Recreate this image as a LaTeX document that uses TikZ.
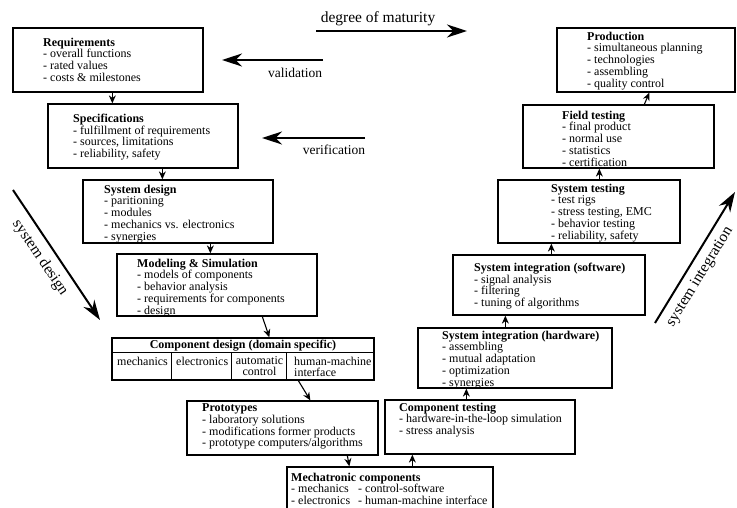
\documentclass[tikz,border=0pt]{standalone}
\usepackage{fontspec}
\setmainfont{Liberation Serif}
\usetikzlibrary{arrows.meta,calc,fit}
\begin{document}
\begin{tikzpicture}[x=1pt,y=-1pt,
  box/.style={draw=black, line width=1.3pt, inner sep=0pt},
  txt/.style={anchor=north west, inner sep=0pt, align=left, font=\fontsize{12}{11.7}\selectfont},
  cell/.style={inner sep=0pt, font=\fontsize{12}{11}\selectfont},
  con/.style={line width=1.1pt, -{Stealth[length=8pt,width=7pt]}},
  bigarr/.style={line width=2pt, -{Stealth[length=20pt,width=13pt]}},
  lbl/.style={inner sep=0pt, font=\fontsize{13.5}{15}\selectfont},
  biglbl/.style={inner sep=0pt, font=\fontsize{15.5}{17}\selectfont}]
\clip (0,0) rectangle (737,508);
\fill[white] (0,0) rectangle (737,508);

% boxes
\node[box, fit={(13,28) (203,92)}] (req) {};
\node[box, fit={(48,104) (238,168)}] (spec) {};
\node[box, fit={(83,180) (273,243)}] (sysd) {};
\node[box, fit={(117,254) (317,316)}] (model) {};
\node[box, fit={(112,338) (374,380)}] (comp) {};
\node[box, fit={(187,401) (378,455)}] (proto) {};
\node[box, fit={(287,467) (493,520)}] (mech) {};
\node[box, fit={(385,400) (575,454)}] (ctest) {};
\node[box, fit={(418,328) (612,388)}] (hw) {};
\node[box, fit={(453,255) (645,315)}] (sw) {};
\node[box, fit={(498,180) (680,243)}] (stest) {};
\node[box, fit={(523,105) (714,168)}] (field) {};
\node[box, fit={(557,28) (735,92)}] (prod) {};

% component design table
\draw[line width=1.2pt] ($(comp.north west)+(0,15)$) -- ($(comp.north east)+(0,15)$);
\draw[line width=1.2pt] ($(comp.south west)+(60,0)$) -- ($(comp.north west)+(60,15)$);
\draw[line width=1.2pt] ($(comp.south west)+(120,0)$) -- ($(comp.north west)+(120,15)$);
\draw[line width=1.2pt] ($(comp.south west)+(175,0)$) -- ($(comp.north west)+(175,15)$);
\node[cell, font=\fontsize{12}{11}\selectfont\bfseries] (comph) at (243,345.5) {Component design (domain specific)};
\node[cell, anchor=north west] (c1) at (117,356.5) {mechanics};
\node[cell, anchor=north west] (c2) at (176,356.5) {electronics};
\node[cell, anchor=north, align=center] (c3) at (259.5,356.5) {automatic\\control};
\node[cell, anchor=north west, align=left] (c4) at (294,356.5) {human-machine\\interface};

% texts
\node[txt] (reqt) at (43,37.7) {\textbf{Requirements}\\- overall functions\\- rated values\\- costs \& milestones};
\node[txt] (spect) at (73,113.7) {\textbf{Specifications}\\- fulfillment of requirements\\- sources, limitations\\- reliability, safety};
\node[txt] (sysdt) at (104,184.7) {\textbf{System design}\\- paritioning\\- modules\\- mechanics vs. electronics\\- synergies};
\node[txt] (modelt) at (137,258.7) {\textbf{Modeling \& Simulation}\\- models of components\\- behavior analysis\\- requirements for components\\- design};
\node[txt] (protot) at (202,403.7) {\textbf{Prototypes}\\- laboratory solutions\\- modifications former products\\- prototype computers/algorithms};
\node[txt] (mecht) at (291,472.7) {\textbf{Mechatronic components}\\\makebox[67pt][l]{- mechanics}- control-software\\\makebox[67pt][l]{- electronics}- human-machine interface};
\node[txt] (ctestt) at (399,402.7) {\textbf{Component testing}\\- hardware-in-the-loop simulation\\- stress analysis};
\node[txt] (hwt) at (442,330.7) {\textbf{System integration (hardware)}\\- assembling\\- mutual adaptation\\- optimization\\- synergies};
\node[txt] (swt) at (474,262.7) {\textbf{System integration (software)}\\- signal analysis\\- filtering\\- tuning of algorithms};
\node[txt] (stestt) at (551,183.7) {\textbf{System testing}\\- test rigs\\- stress testing, EMC\\- behavior testing\\- reliability, safety};
\node[txt] (fieldt) at (562,110.7) {\textbf{Field testing}\\- final product\\- normal use\\- statistics\\- certification};
\node[txt] (prodt) at (587,31.7) {\textbf{Production}\\- simultaneous planning\\- technologies\\- assembling\\- quality control};

% connectors
\draw[con] ($(req.south west)+(100,0)$) -- ($(spec.north west)+(65,0)$);
\draw[con] ($(spec.south west)+(115,0)$) -- ($(sysd.north west)+(80,0)$);
\draw[con] ($(sysd.south west)+(128,0)$) -- ($(model.north west)+(94,0)$);
\draw[con] ($(model.south west)+(146,0)$) -- ($(comp.north west)+(158,0)$);
\draw[con] ($(comp.south west)+(187,0)$) -- ($(proto.north west)+(124,0)$);
\draw[con] ($(proto.south west)+(161,0)$) -- ($(mech.north west)+(63,0)$);
\draw[con] ($(mech.north west)+(126,0)$) -- ($(ctest.south west)+(28,0)$);
\draw[con] ($(ctest.north west)+(82,0)$) -- ($(hw.south west)+(49,0)$);
\draw[con] ($(hw.north west)+(88,0)$) -- ($(sw.south west)+(53,0)$);
\draw[con] ($(sw.north west)+(99,0)$) -- ($(stest.south west)+(54,0)$);
\draw[con] ($(stest.north west)+(102,0)$) -- ($(field.south west)+(77,0)$);
\draw[con] ($(field.north west)+(122,0)$) -- ($(prod.south west)+(93,0)$);

% big arrows and labels
\coordinate (dmA) at (316,31);
\coordinate (dmB) at (467,31);
\draw[bigarr] (dmA) -- (dmB);
\node[biglbl] (dml) at (378,19) {degree of maturity};

\coordinate (vaA) at (323,60);
\coordinate (vaB) at (222,60);
\draw[bigarr] (vaA) -- (vaB);
\node[lbl] (val) at (295,73) {validation};

\coordinate (veA) at (365,138);
\coordinate (veB) at (262,138);
\draw[bigarr] (veA) -- (veB);
\node[lbl] (ver) at (334,150) {verification};

\coordinate (sdA) at (13,190);
\coordinate (sdB) at (100,320);
\draw[bigarr] (sdA) -- (sdB);
\node[biglbl, rotate=-56] (sdl) at (40,258) {system design};

\coordinate (siA) at (655,323);
\coordinate (siB) at (735,192);
\draw[bigarr] (siA) -- (siB);
\node[biglbl, rotate=58.6] (sil) at (700,277) {system integration};
\end{tikzpicture}
\end{document}
